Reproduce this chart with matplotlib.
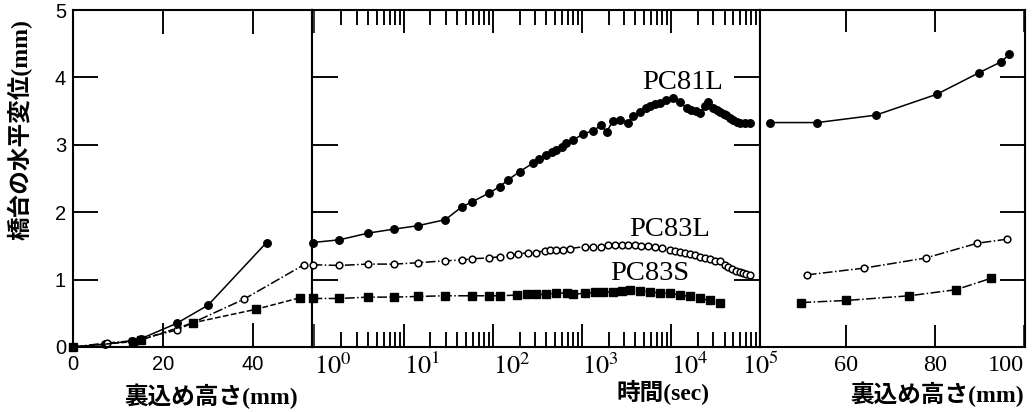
import matplotlib
matplotlib.use('Agg')
import matplotlib.pyplot as plt
from matplotlib.ticker import FixedLocator, LogLocator, NullFormatter

plt.rcParams['mathtext.fontset'] = 'stix'

# ---------------- data ----------------
# Left panel: backfill height (mm) -> horizontal displacement (mm)
left_h_81L = [0, 7, 13, 15, 23, 30, 43]
left_d_81L = [0, 0.04, 0.09, 0.12, 0.35, 0.62, 1.55]
left_h_83L = [0, 7.5, 13, 23, 38, 51.3]
left_d_83L = [0, 0.06, 0.09, 0.25, 0.71, 1.22]
left_h_83S = [0, 13.4, 15, 26.7, 40.7, 50.4]
left_d_83S = [0, 0.08, 0.10, 0.36, 0.56, 0.73]

# Middle panel: time (sec) -> displacement (mm)
t_81L = [0.95, 1.9, 4, 7.9, 14.5, 29.5, 45, 58, 90, 120, 149, 200, 284, 330,
         400, 460, 520, 600, 670, 800, 1030, 1340, 1660, 1900, 2240, 2670,
         3300, 3780, 4500, 5200, 5800, 6600, 7500, 8900, 10600, 12600, 15000,
         17000, 19000, 21000, 24000, 26000, 30000, 33000, 35600, 39000, 42000,
         46000, 50000, 55000, 60000, 68000, 77000]
d_81L = [1.55, 1.59, 1.69, 1.75, 1.80, 1.89, 2.08, 2.15, 2.28, 2.38, 2.48,
         2.60, 2.73, 2.79, 2.85, 2.89, 2.93, 2.97, 3.02, 3.07, 3.16, 3.21,
         3.29, 3.19, 3.36, 3.37, 3.33, 3.42, 3.49, 3.54, 3.58, 3.60, 3.62,
         3.66, 3.70, 3.64, 3.54, 3.52, 3.50, 3.47, 3.57, 3.64, 3.54, 3.51,
         3.49, 3.46, 3.44, 3.40, 3.37, 3.34, 3.33, 3.32, 3.32]

t_83L = [0.95, 1.9, 4, 7.9, 14.5, 29.5, 45, 58, 90, 120, 155, 192, 250, 310,
         385, 440, 520, 620, 730, 1080, 1340, 1660, 1970, 2340, 2790, 3300,
         3930, 4670, 5550, 6600, 7860, 9800, 11000, 12600, 14500, 16400,
         18500, 21000, 24000, 27500, 31000, 35600, 40000, 44000, 49000,
         54000, 59000, 64000, 70000, 77000]
d_83L = [1.22, 1.21, 1.23, 1.23, 1.25, 1.28, 1.29, 1.31, 1.32, 1.34, 1.36,
         1.38, 1.40, 1.40, 1.43, 1.44, 1.44, 1.44, 1.46, 1.49, 1.48, 1.49,
         1.51, 1.51, 1.51, 1.51, 1.51, 1.50, 1.50, 1.49, 1.47, 1.44, 1.43,
         1.41, 1.39, 1.38, 1.36, 1.34, 1.32, 1.30, 1.28, 1.27, 1.22, 1.18,
         1.15, 1.13, 1.12, 1.10, 1.09, 1.07]

t_83S = [0.95, 1.9, 4, 7.9, 14.5, 29.5, 58, 90, 120, 185, 240, 310, 400, 520,
         675, 800, 1080, 1400, 1740, 2240, 2790, 3460, 4480, 5800, 7500, 9750,
         12600, 16300, 21200, 27400, 35500]
d_83S = [0.72, 0.72, 0.74, 0.74, 0.75, 0.76, 0.76, 0.76, 0.76, 0.77, 0.78,
         0.78, 0.78, 0.80, 0.80, 0.78, 0.80, 0.81, 0.81, 0.82, 0.83, 0.84,
         0.83, 0.82, 0.80, 0.80, 0.77, 0.75, 0.72, 0.69, 0.65]

# Right panel: backfill height (mm) -> displacement (mm)
right_h_81L = [42.9, 53.6, 66.7, 80.4, 89.9, 94.8, 96.7]
right_d_81L = [3.33, 3.33, 3.44, 3.75, 4.07, 4.23, 4.34]
right_h_83L = [51.2, 64.0, 77.9, 89.5, 96.2]
right_d_83L = [1.07, 1.17, 1.32, 1.54, 1.60]
right_h_83S = [50.0, 60.0, 74.2, 84.7, 92.6]
right_d_83S = [0.66, 0.69, 0.76, 0.85, 1.02]

yticks_vals = [0, 1, 2, 3, 4, 5]
inner_yticks = [1, 2, 3, 4]
left_xticks = [0, 20, 40]
mid_xticks = [1, 10, 100, 1000, 10000, 100000]
mid_xticklabels = ['$10^{0}$', '$10^{1}$', '$10^{2}$', '$10^{3}$', '$10^{4}$', '$10^{5}$']
right_xticks = [60, 80, 100]

series_labels = ['PC81L', 'PC83L', 'PC83S']
ylabel_text = '橋台の水平変位(mm)'
xlabel_h = '裏込め高さ(mm)'
xlabel_t = '時間(sec)'

# ---------------- figure ----------------
W, H = 1034, 412
fig = plt.figure(figsize=(W / 100, H / 100), dpi=100)

def fx(px):
    return px / W

def fy(py):
    return 1 - py / H

bottom = fy(347)
height = (347 - 10) / H
axL = fig.add_axes([fx(73), bottom, fx(312 - 73), height])
axM = fig.add_axes([fx(312), bottom, fx(760 - 312), height])
axR = fig.add_axes([fx(760), bottom, fx(1025 - 760), height])

K = 'black'
ms_c = 5.4
ms_s = 5.2
lwd = 1.1

def plot_set(ax, x81, y81, x83l, y83l, x83s, y83s, ls83s):
    ax.plot(x81, y81, linestyle='-', color=K, linewidth=lwd, marker='o', markersize=ms_c,
            markerfacecolor=K, markeredgecolor=K, clip_on=False, zorder=3)
    ax.plot(x83l, y83l, linestyle='-.', color=K, linewidth=lwd, marker='o', markersize=ms_c - 0.6,
            markerfacecolor='white', markeredgecolor=K, markeredgewidth=1.1, clip_on=False, zorder=3)
    ax.plot(x83s, y83s, linestyle=ls83s, color=K, linewidth=lwd, marker='s', markersize=ms_s,
            markerfacecolor=K, markeredgecolor=K, clip_on=False, zorder=3)

plot_set(axL, left_h_81L, left_d_81L, left_h_83L, left_d_83L, left_h_83S, left_d_83S, '--')
plot_set(axM, t_81L, d_81L, t_83L, d_83L, t_83S, d_83S, '-.')
plot_set(axR, right_h_81L, right_d_81L, right_h_83L, right_d_83L, right_h_83S, right_d_83S, '-.')

# limits and locators
axM.set_xscale('log')
axL.set_xlim(0, 53.1)
axM.set_xlim(10 ** -0.028, 10 ** 5.0)
axR.set_xlim(40.7, 100.2)
for ax in (axL, axM, axR):
    ax.set_ylim(0, 5)

axL.xaxis.set_major_locator(FixedLocator(left_xticks))
axL.yaxis.set_major_locator(FixedLocator(yticks_vals))
axM.xaxis.set_major_locator(FixedLocator(mid_xticks))
axM.xaxis.set_minor_locator(LogLocator(base=10, subs=range(2, 10), numticks=20))
axM.xaxis.set_minor_formatter(NullFormatter())
axM.yaxis.set_major_locator(FixedLocator(yticks_vals))
axR.xaxis.set_major_locator(FixedLocator(right_xticks))
axR.yaxis.set_major_locator(FixedLocator(yticks_vals))

# tick styling
axL.tick_params(axis='x', which='major', direction='in', top=True, bottom=True,
                length=17, width=1.1, color='black', pad=6)
axL.tick_params(axis='y', which='major', direction='in', left=True, right=False,
                length=18, width=1.1, color='black', pad=5)
axM.tick_params(axis='x', which='major', direction='in', top=True, bottom=True,
                length=16.5, width=1.1, color='black', pad=5)
axM.tick_params(axis='x', which='minor', direction='in', top=True, bottom=True,
                length=11, width=1.1, color='black')
axM.tick_params(axis='y', which='major', direction='in', left=True, right=True,
                length=19, width=1.1, color='black', labelleft=False)
axR.tick_params(axis='x', which='major', direction='in', top=True, bottom=True,
                length=16, width=1.1, color='black', pad=6)
axR.tick_params(axis='y', which='major', direction='in', left=False, right=True,
                length=18, width=1.1, color='black', labelleft=False)

# inward tick marks also drawn as Line2D segments on top (same geometry as the ticks)
def xmarks(ax, pos, frac):
    tr = ax.get_xaxis_transform()
    for p in pos:
        ax.plot([p, p], [0, frac], color=K, linewidth=1.1, transform=tr,
                clip_on=False, zorder=4, solid_capstyle='butt')
        ax.plot([p, p], [1 - frac, 1], color=K, linewidth=1.1, transform=tr,
                clip_on=False, zorder=4, solid_capstyle='butt')

def ymarks(ax, pos, frac, side):
    tr = ax.get_yaxis_transform()
    xs = [0, frac] if side == 'left' else [1 - frac, 1]
    for p in pos:
        ax.plot(xs, [p, p], color=K, linewidth=1.1, transform=tr,
                clip_on=False, zorder=4, solid_capstyle='butt')

minor_pos = [k * 10 ** d for d in range(0, 5) for k in range(2, 10)]
xmarks(axL, left_xticks[1:], 23.6 / 337)
ymarks(axL, inner_yticks, 25 / 239, 'left')
xmarks(axM, mid_xticks[1:-1], 23 / 337)
xmarks(axM, minor_pos, 15.3 / 337)
ymarks(axM, inner_yticks, 26.4 / 448, 'left')
ymarks(axM, inner_yticks, 26.4 / 448, 'right')
xmarks(axR, right_xticks[:-1], 22.2 / 337)
ymarks(axR, inner_yticks, 25 / 265, 'right')

axL.set_xlim(0, 53.1)
axM.set_xlim(10 ** -0.028, 10 ** 5.0)
axR.set_xlim(40.7, 100.2)
for ax in (axL, axM, axR):
    ax.set_ylim(0, 5)

# tick labels
axL.set_xticklabels([str(v) for v in left_xticks], fontfamily='Liberation Sans', fontsize=14.5)
axL.set_yticklabels([str(v) for v in yticks_vals], fontfamily='Liberation Sans', fontsize=14.5)
axM.set_xticklabels(mid_xticklabels, fontsize=19)
axR.set_xticklabels([str(v) for v in right_xticks], fontfamily='Liberation Serif', fontsize=17.5)
for i, lab in enumerate(axM.get_xticklabels()):
    lab.set_ha('center' if i == len(mid_xticks) - 1 else 'left')
for i, lab in enumerate(axR.get_xticklabels()):
    if i == len(right_xticks) - 1:
        lab.set_ha('right')

for ax in (axL, axM, axR):
    for s in ax.spines.values():
        s.set_linewidth(1.5)

# Series labels
lab_font = dict(fontfamily='Liberation Serif', fontsize=20.5, color=K, ha='center', va='center')
axM.text(0.828, 0.786, series_labels[0], transform=axM.transAxes, **lab_font)
axM.text(0.799, 0.350, series_labels[1], transform=axM.transAxes, **lab_font)
axM.text(0.754, 0.217, series_labels[2], transform=axM.transAxes, **lab_font)

# Axis titles
jp = ['Liberation Serif', 'Noto Sans CJK JP']
fig.text(fx(20), fy(130), ylabel_text, rotation=90, ha='center', va='center',
         family=jp, fontsize=17, fontweight='bold')
fig.text(fx(211), fy(396), xlabel_h, ha='center', va='center', family=jp, fontsize=17, fontweight='bold')
fig.text(fx(663), fy(393), xlabel_t, ha='center', va='center', family=jp, fontsize=17, fontweight='bold')
fig.text(fx(937), fy(394), xlabel_h, ha='center', va='center', family=jp, fontsize=17, fontweight='bold')

fig.savefig('out.png', dpi=100)
